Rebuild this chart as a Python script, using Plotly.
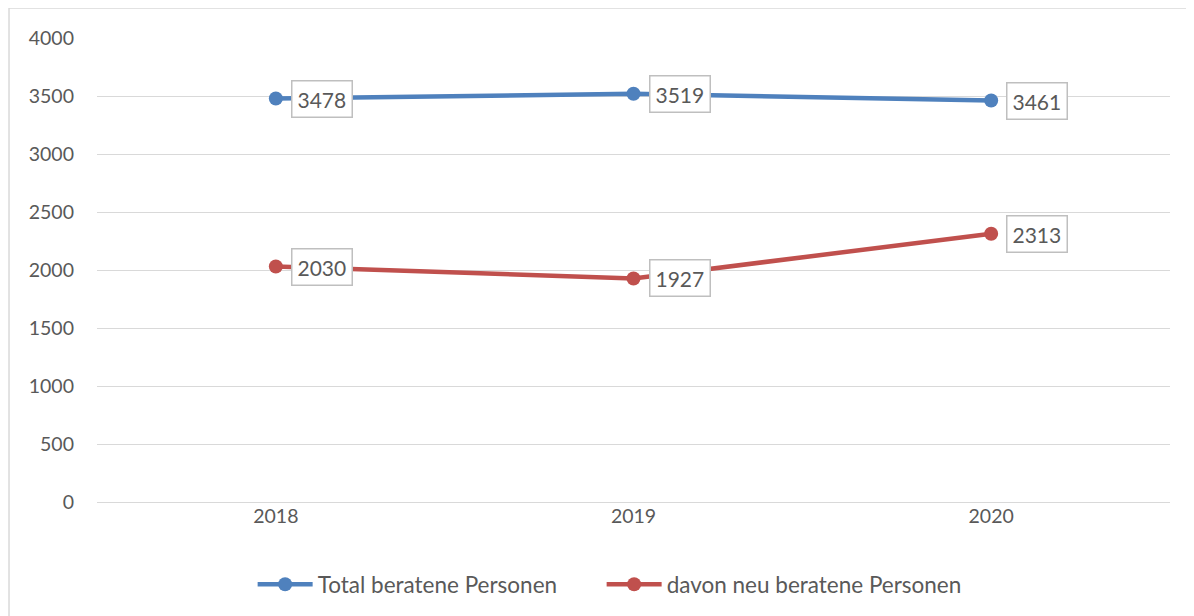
import plotly.graph_objects as go

years = ["2018", "2019", "2020"]
total = [3478, 3519, 3461]
neu = [2030, 1927, 2313]
series_names = ["Total beratene Personen", "davon neu beratene Personen"]
colors = ["#4F81BD", "#C0504D"]
yticks = [0, 500, 1000, 1500, 2000, 2500, 3000, 3500, 4000]

font_family = "Lato"
txt = "#595959"

fig = go.Figure()
legends = ["legend", "legend2"]
for name, vals, c, lg in zip(series_names, [total, neu], colors, legends):
    fig.add_trace(go.Scatter(
        x=years, y=vals, name=name, mode="lines+markers",
        line=dict(color=c, width=4.5),
        marker=dict(color=c, size=14),
        legend=lg,
    ))
    for i, (xv, yv) in enumerate(zip(years, vals)):
        fig.add_annotation(
            x=i, y=yv, xref="x", yref="y", text=str(yv), showarrow=False,
            xanchor="left", yanchor="middle", xshift=15,
            font=dict(family=font_family, size=21, color=txt),
            bgcolor="white", bordercolor="#BFBFBF", borderwidth=1.5,
            borderpad=5,
        )

fig.add_shape(type="rect", xref="paper", yref="paper",
              x0=-0.082, x1=1.05, y0=-0.3, y1=1.0647,
              line=dict(color="#D9D9D9", width=1.5), layer="below")

W, H = 1186, 608
fig.update_layout(
    width=W, height=H,
    margin=dict(l=89, r=24, t=30, b=114, autoexpand=False),
    paper_bgcolor="white", plot_bgcolor="white",
    font=dict(family=font_family, size=19, color=txt),
    showlegend=True,
    legend=dict(orientation="h", x=(258 - 8 - 89) / 1073 - 0.005, xanchor="left", y=-0.178, yanchor="middle",
                font=dict(family=font_family, size=22.5, color=txt), itemwidth=55),
    legend2=dict(orientation="h", x=(607 - 8 - 89) / 1073 - 0.005, xanchor="left", y=-0.178, yanchor="middle",
                 font=dict(family=font_family, size=22.5, color=txt), itemwidth=55),
    xaxis=dict(type="category", range=[-0.5, 2.5], showgrid=False,
               showline=False, ticks="", tickfont=dict(size=19.5, color=txt)),
    yaxis=dict(range=[0, 4000], tickvals=yticks, showgrid=True, gridcolor="#D9D9D9",
               gridwidth=1.2, zeroline=True, zerolinecolor="#D9D9D9", zerolinewidth=1.2,
               ticks="", ticklabelstandoff=22, tickfont=dict(size=19.5, color=txt)),
)

fig.write_html("out.html")
